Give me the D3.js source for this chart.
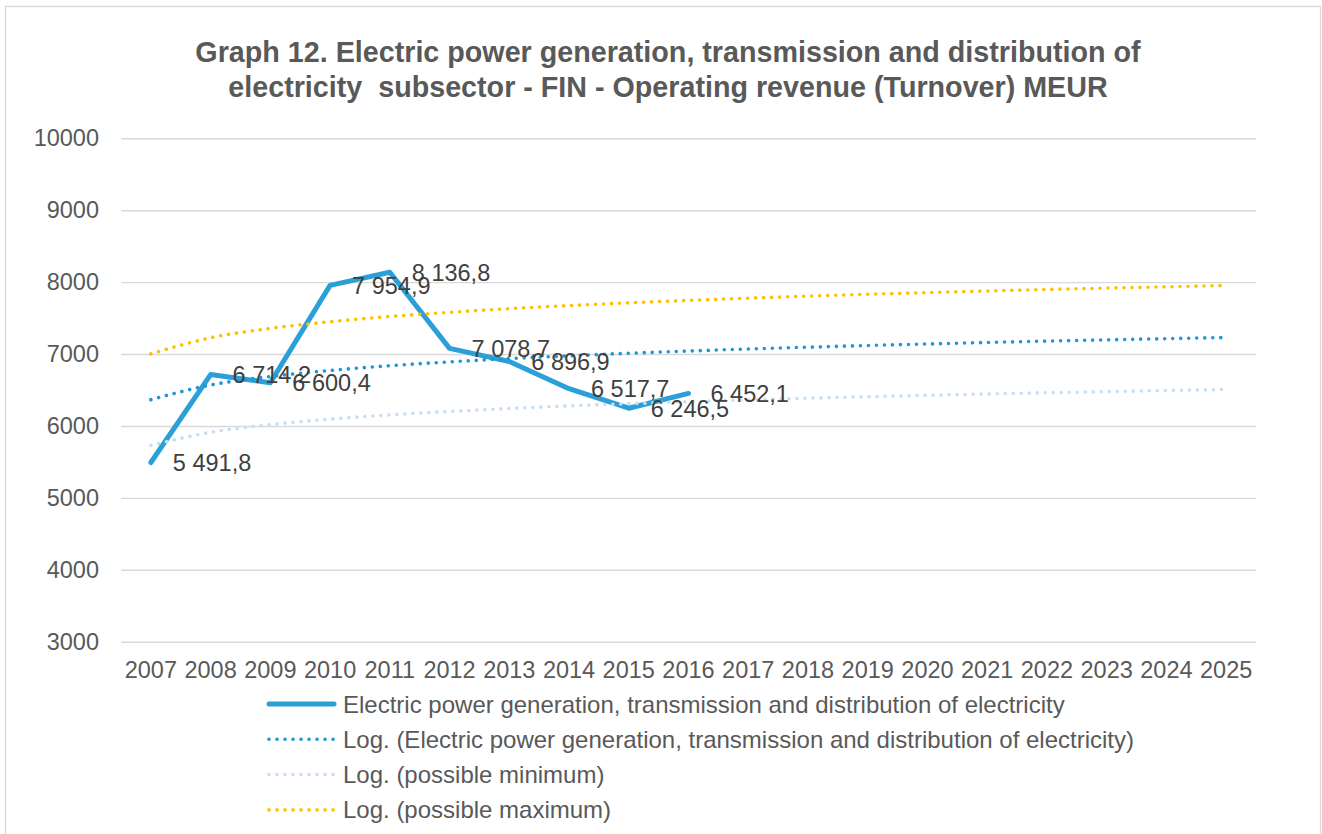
<!DOCTYPE html>
<html>
<head>
<meta charset="utf-8">
<script src="https://cdn.jsdelivr.net/npm/d3@7"></script>
<style>
  html, body { margin: 0; padding: 0; background: #fff; }
  svg { display: block; font-family: "Liberation Sans", Arial, sans-serif; }
</style>
</head>
<body>
<svg id="chart" width="1322" height="834"></svg>
<script>
// ---- Data ----
const years = ["2007","2008","2009","2010","2011","2012","2013","2014","2015","2016",
               "2017","2018","2019","2020","2021","2022","2023","2024","2025"];
const revenue = [5491.8, 6714.2, 6600.4, 7954.9, 8136.8, 7078.7, 6896.9, 6517.7, 6246.5, 6452.1];
const revenueLabels = ["5 491,8","6 714,2","6 600,4","7 954,9","8 136,8","7 078,7","6 896,9","6 517,7","6 246,5","6 452,1"];
// Trend lines (per year)
const trendLog = [6365, 6569, 6688, 6772, 6838, 6891, 6937, 6976, 7011, 7042,
                  7070, 7095, 7119, 7140, 7161, 7180, 7197, 7214, 7230];
const trendMin = [5729, 5912, 6019, 6095, 6154, 6202, 6243, 6278, 6310, 6338,
                  6363, 6386, 6407, 6426, 6445, 6462, 6477, 6493, 6507];
const trendMax = [7002, 7226, 7357, 7449, 7522, 7580, 7631, 7674, 7712, 7746,
                  7777, 7805, 7831, 7854, 7877, 7898, 7917, 7935, 7953];
const yTicks = [3000, 4000, 5000, 6000, 7000, 8000, 9000, 10000];
const titleLines = ["Graph 12. Electric power generation, transmission and distribution of",
                    "electricity  subsector - FIN - Operating revenue (Turnover) MEUR"];
const legendItems = [
  {name: "Electric power generation, transmission and distribution of electricity", kind: "solid", color: "#2a9fd8"},
  {name: "Log. (Electric power generation, transmission and distribution of electricity)", kind: "dot", color: "#1f97d6"},
  {name: "Log. (possible minimum)", kind: "dot", color: "#c8def2"},
  {name: "Log. (possible maximum)", kind: "dot", color: "#ffc000"}
];

// ---- Layout ----
const svg = d3.select("#chart");
const plot = {left: 121, right: 1256, top: 138.3, bottom: 641.7};
const textGray = "#595959";

// border
svg.append("rect").attr("x", 5.5).attr("y", 6.5).attr("width", 1315).attr("height", 840)
  .attr("fill", "#fff").attr("stroke", "#d9d9d9").attr("stroke-width", 1.3);

// title
svg.append("g").selectAll("text").data(titleLines).join("text")
  .attr("x", 668).attr("y", (d, i) => 62 + i * 35)
  .attr("text-anchor", "middle")
  .attr("font-size", 28.7).attr("font-weight", "bold").attr("fill", textGray)
  .style("white-space", "pre")
  .text(d => d);

const x = d3.scaleBand().domain(years).range([plot.left, plot.right]).paddingInner(0).paddingOuter(0);
const xc = d => x(d) + x.bandwidth() / 2;
const y = d3.scaleLinear().domain([3000, 10000]).range([plot.bottom, plot.top]);

// y axis with gridlines
const yAxis = svg.append("g").attr("transform", `translate(${plot.left},0)`)
  .call(d3.axisLeft(y).tickValues(yTicks).tickSize(-(plot.right - plot.left)).tickPadding(22).tickFormat(d3.format("d")));
yAxis.select(".domain").remove();
yAxis.selectAll(".tick line").attr("stroke", "#d9d9d9").attr("stroke-width", 1.4);
yAxis.selectAll(".tick text").attr("font-size", 23.5).attr("fill", textGray)
  .attr("font-family", "Liberation Sans, Arial, sans-serif");

// x axis
const xAxis = svg.append("g").attr("transform", `translate(0,${plot.bottom})`)
  .call(d3.axisBottom(x).tickSize(0).tickPadding(20));
xAxis.select(".domain").remove();
xAxis.selectAll(".tick text").attr("font-size", 23.5).attr("fill", textGray)
  .attr("font-family", "Liberation Sans, Arial, sans-serif");

// main line
const mainData = revenue.map((v, i) => ({year: years[i], v, label: revenueLabels[i]}));
const lineGen = d3.line().x(d => xc(d.year)).y(d => y(d.v));
svg.append("path").datum(mainData).attr("d", lineGen)
  .attr("fill", "none").attr("stroke", legendItems[0].color).attr("stroke-width", 5)
  .attr("stroke-linejoin", "round").attr("stroke-linecap", "round");

// trend lines
const trendGen = d3.line().x(d => xc(d.year)).y(d => y(d.v)).curve(d3.curveMonotoneX);
[[trendLog, 1], [trendMin, 2], [trendMax, 3]].forEach(([arr, li]) => {
  const data = arr.map((v, i) => ({year: years[i], v}));
  svg.append("path").datum(data).attr("d", trendGen)
    .attr("fill", "none").attr("stroke", legendItems[li].color).attr("stroke-width", 3.6)
    .attr("stroke-linecap", "round").attr("stroke-dasharray", "0.01 8");
});

// data labels
svg.append("g").selectAll("text").data(mainData).join("text")
  .attr("x", d => xc(d.year) + 22).attr("y", d => y(d.v) + 8.5)
  .attr("font-size", 23.5).attr("fill", "#404040")
  .text(d => d.label);

// legend
const lg = svg.append("g");
legendItems.forEach((it, i) => {
  const cy = 704 + i * 35.3;
  const ln = lg.append("line").attr("x1", 269).attr("x2", 334).attr("y1", cy).attr("y2", cy)
    .attr("stroke", it.color).attr("stroke-linecap", "round");
  if (it.kind === "solid") ln.attr("stroke-width", 5);
  else ln.attr("stroke-width", 3.6).attr("stroke-dasharray", "0.01 8");
  lg.append("text").attr("x", 343).attr("y", cy + 8.5)
    .attr("font-size", 24).attr("fill", textGray).text(it.name);
});
</script>
</body>
</html>
